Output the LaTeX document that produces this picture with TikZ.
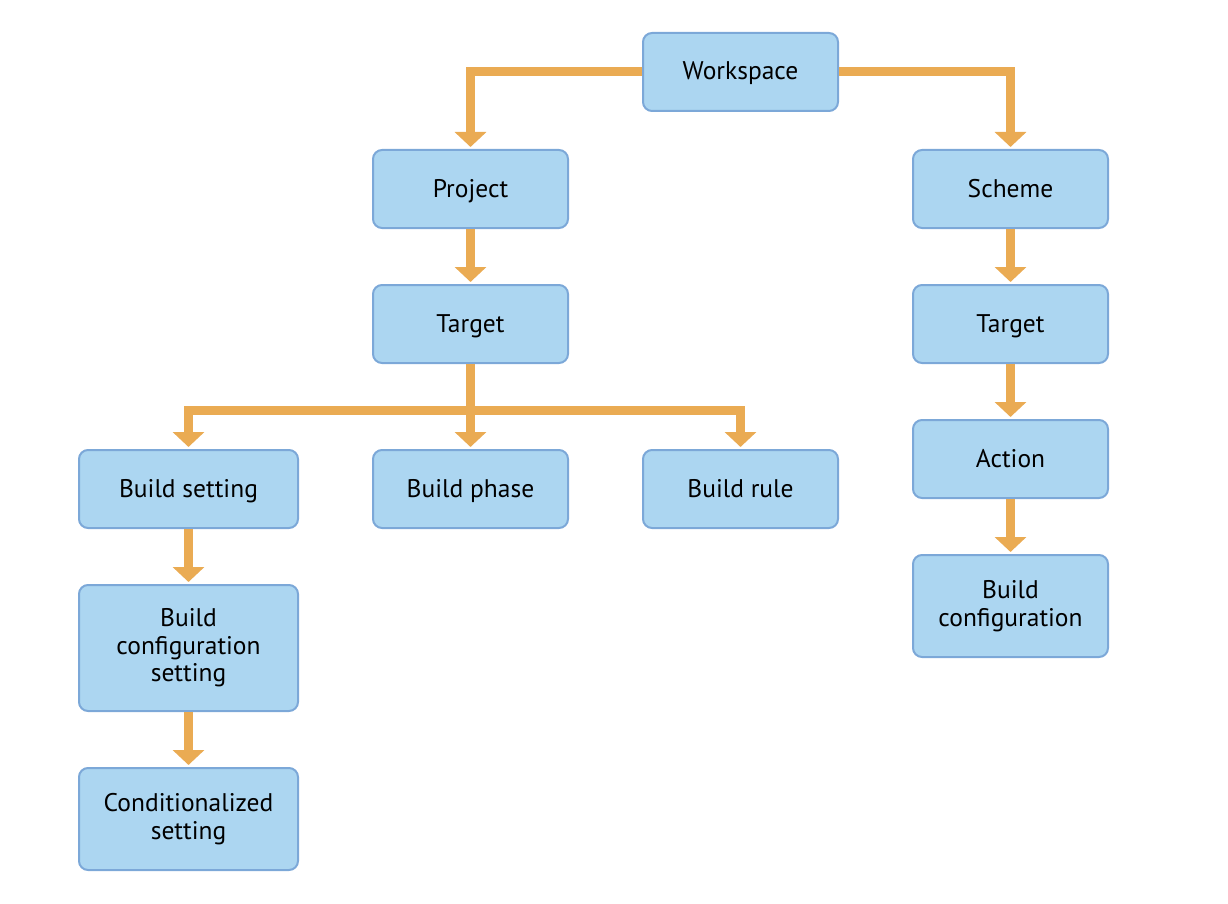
\documentclass[tikz,border=0pt]{standalone}
\usepackage{fontspec}
\setmainfont{PT Sans}
\usetikzlibrary{arrows.meta}
\definecolor{boxfill}{RGB}{172,214,241}
\definecolor{boxdraw}{RGB}{124,168,216}
\definecolor{conncol}{RGB}{234,171,83}
\tikzset{
  box/.style={draw=boxdraw, fill=boxfill, line width=2pt, rounded corners=9pt,
    minimum width=195pt, minimum height=78pt, inner sep=0pt, align=center,
    font=\fontsize{25.5}{27.5}\selectfont},
  one/.style={box, text height=20pt, text depth=4pt},
  conn/.style={draw=conncol, line width=9pt,
    -{Triangle[width=31pt,length=15pt]}, shorten >=2pt},
  plain/.style={draw=conncol, line width=9pt}
}
\begin{document}
\begin{tikzpicture}[x=1pt,y=-1pt]
\useasboundingbox (0,0) rectangle (1228,904);
\node[one] (ws) at (740.5,72) {Workspace};
\node[one] (proj) at (470.5,189) {Project};
\node[one] (sch) at (1010.5,189) {Scheme};
\node[one] (tl) at (470.5,324) {Target};
\node[one] (tr) at (1010.5,324) {Target};
\node[one, minimum width=219pt] (bs) at (188.5,489) {Build setting};
\node[one] (bph) at (470.5,489) {Build phase};
\node[one] (br) at (740.5,489) {Build rule};
\node[one] (act) at (1010.5,459) {Action};
\node[box, minimum height=102pt] (bc) at (1010.5,606) {Build\\configuration};
\node[box, minimum width=219pt, minimum height=126pt] (bcs) at (188.5,648) {Build\\configuration\\setting};
\node[box, minimum width=219pt, minimum height=102pt] (cs) at (188.5,819) {Conditionalized\\setting};
\coordinate (bus) at (470.5,410);
\draw[conn] (ws.west) -| (proj.north);
\draw[conn] (ws.east) -| (sch.north);
\draw[conn] (proj) -- (tl);
\draw[conn] (sch) -- (tr);
\draw[conn] (tr) -- (act);
\draw[conn] (act) -- (bc);
\draw[plain] (tl.south) -- (bus);
\draw[conn] (bus) -| (bs.north);
\draw[conn] (bus) -| (br.north);
\draw[conn] (tl.south) -- (bph.north);
\draw[conn] (bs) -- (bcs);
\draw[conn] (bcs) -- (cs);
\end{tikzpicture}
\end{document}
